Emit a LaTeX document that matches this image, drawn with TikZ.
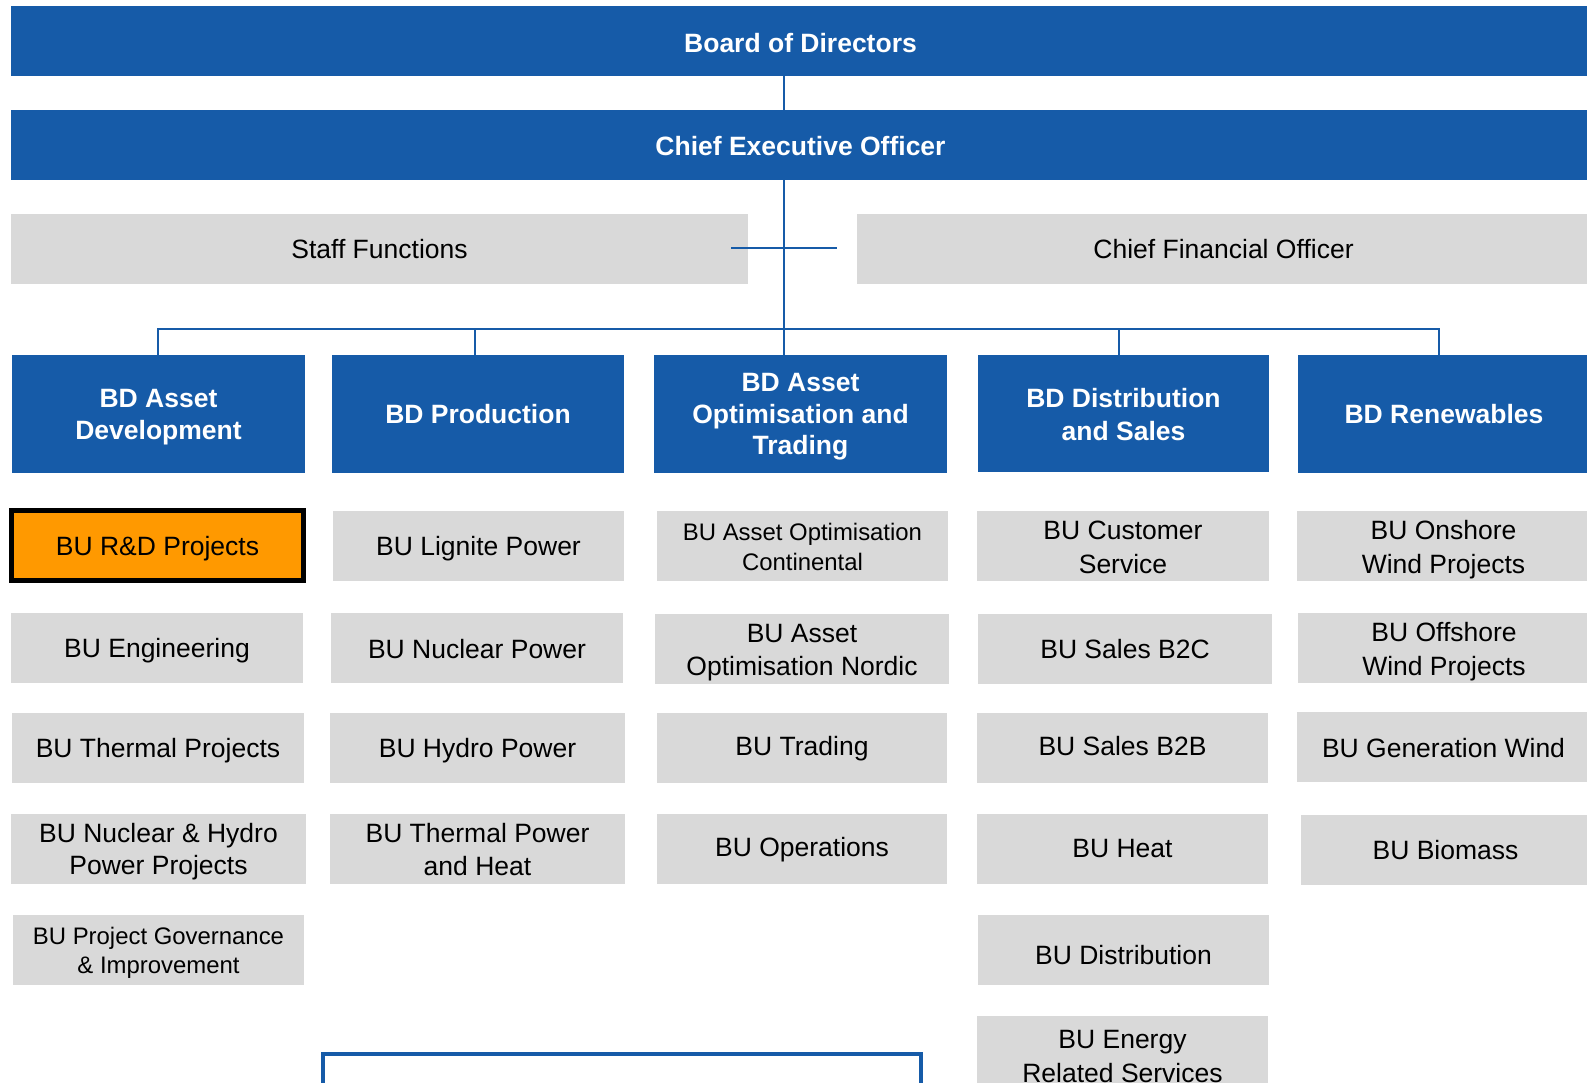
\documentclass[tikz,border=0pt]{standalone}
\usepackage{fontspec}
\setmainfont{Liberation Sans}
\definecolor{hdblue}{HTML}{165BA8}
\definecolor{bugray}{HTML}{D9D9D9}
\definecolor{rdorange}{HTML}{FF9900}
\newcommand\placebox[7]{\node[#2, anchor=north west, minimum width={(#5)-(#3)}, minimum height={(#6)-(#4)}] (#1) at (#3,#4) {#7};}
% set a line without its depth, optionally lowered
\newcommand\nd[2][0pt]{\raisebox{-#1}[\height][0pt]{#2}}
\begin{document}
\begin{tikzpicture}[x=1pt,y=-1pt,
  base/.style={rectangle, inner sep=0pt, outer sep=0pt, align=center, draw=none},
  hdbox/.style={base, fill=hdblue, text=white, font=\fontsize{26.5}{31.8}\selectfont\bfseries},
  graybox/.style={base, fill=bugray, text=black, font=\fontsize{26.5}{31.8}\selectfont},
  smallgray/.style={base, fill=bugray, text=black, font=\fontsize{23.9}{28.7}\selectfont},
  rdbox/.style={base, fill=rdorange, draw=black, line width=5pt, text=black, font=\fontsize{26.5}{31.8}\selectfont},
  outlinebox/.style={base, draw=hdblue, line width=4pt, fill=none},
  conn/.style={draw=hdblue, line width=2.6pt}]
\useasboundingbox (0,0) rectangle (1587,1083);
\clip (0,0) rectangle (1587,1083);
\fill[white] (0,0) rectangle (1587,1083);
% top level
\placebox{board}{hdbox}{11}{6}{1590}{76}{\nd[2pt]{Board of Directors}}
\placebox{ceo}{hdbox}{11}{110}{1590}{180}{\nd[1pt]{Chief Executive Officer}}
\placebox{staff}{graybox}{11}{214}{748}{284}{\nd{Staff Functions}}
\placebox{cfo}{graybox}{857}{214}{1590}{284}{\nd{Chief Financial Officer}}
% business divisions
\placebox{bd1}{hdbox}{12}{355}{305}{473}{BD Asset\\\nd{Development}}
\placebox{bd2}{hdbox}{332}{355}{624}{473}{\nd{BD Production}}
\placebox{bd3}{hdbox}{654}{355}{947}{473}{BD Asset\\Optimisation and\\\nd{Trading}}
\placebox{bd4}{hdbox}{978}{355}{1269}{472}{BD Distribution\\\nd[1pt]{and Sales}}
\placebox{bd5}{hdbox}{1298}{355}{1590}{473}{\nd{BD Renewables}}
% column 1
\placebox{rd}{rdbox}{11.5}{510.5}{303.5}{580.5}{\nd{BU R\&D Projects}}
\placebox{eng}{graybox}{11}{613}{303}{683}{\nd{BU Engineering}}
\placebox{thermp}{graybox}{12}{713}{304}{783}{\nd{BU Thermal Projects}}
\placebox{nuchyd}{graybox}{11}{814}{306}{884}{BU Nuclear \& Hydro\\\nd{Power Projects}}
\placebox{gov}{smallgray}{13}{915}{304}{985}{BU Project Governance\\\nd{\& Improvement}}
% column 2
\placebox{lignite}{graybox}{333}{511}{624}{581}{\nd{BU Lignite Power}}
\placebox{nucp}{graybox}{331}{613}{623}{683}{\nd[1pt]{BU Nuclear Power}}
\placebox{hydro}{graybox}{330}{713}{625}{783}{\nd{BU Hydro Power}}
\placebox{thermph}{graybox}{330}{814}{625}{884}{BU Thermal Power\\\nd[1pt]{and Heat}}
% column 3
\placebox{cont}{smallgray}{657}{511}{948}{581}{BU Asset Optimisation\\\nd[1.5pt]{Continental}}
\placebox{nordic}{graybox}{655}{614}{949}{684}{BU Asset\\\nd[1.5pt]{Optimisation Nordic}}
\placebox{trading}{graybox}{657}{713}{947}{783}{\nd[-2pt]{BU Trading}}
\placebox{ops}{graybox}{657}{814}{947}{884}{\nd[-2pt]{BU Operations}}
% column 4
\placebox{cust}{graybox}{977}{511}{1269}{581}{BU Customer\\\nd[2pt]{Service}}
\placebox{b2c}{graybox}{978}{614}{1272}{684}{\nd{BU Sales B2C}}
\placebox{b2b}{graybox}{977}{713}{1268}{783}{\nd[-2pt]{BU Sales B2B}}
\placebox{heat}{graybox}{977}{814}{1268}{884}{\nd[-1pt]{BU Heat}}
\placebox{dist}{graybox}{978}{915}{1269}{985}{\nd[5pt]{BU Distribution}}
\placebox{energy}{graybox}{977}{1016}{1268}{1094}{BU Energy\\\nd[2.5pt]{Related Services}}
% column 5
\placebox{onshore}{graybox}{1297}{511}{1590}{581}{BU Onshore\\\nd[1.5pt]{Wind Projects}}
\placebox{offshore}{graybox}{1298}{613}{1590}{683}{BU Offshore\\\nd[1.5pt]{Wind Projects}}
\placebox{genwind}{graybox}{1297}{712}{1590}{782}{\nd[1pt]{BU Generation Wind}}
\placebox{biomass}{graybox}{1301}{815}{1590}{885}{\nd{BU Biomass}}
% outline box at bottom
\placebox{legend}{outlinebox}{323}{1054}{921}{1110}{}
% connectors
\coordinate (spine) at (784,0);
\coordinate (bus) at (0,329);
\coordinate (d1) at (158,0);
\coordinate (d2) at (475,0);
\coordinate (d4) at (1119,0);
\coordinate (d5) at (1439,0);
\coordinate (staffj) at (731,248);
\coordinate (cfoj) at (837,248);
\draw[conn] (board.south -| spine) -- (ceo.north -| spine);
\draw[conn] (ceo.south -| spine) -- (bd3.north -| spine);
\draw[conn] (staffj) -- (cfoj);
\draw[conn] (bd1.north -| d1) -- (d1 |- bus) -- (d5 |- bus) -- (bd5.north -| d5);
\draw[conn] (d2 |- bus) -- (bd2.north -| d2);
\draw[conn] (d4 |- bus) -- (bd4.north -| d4);
\end{tikzpicture}
\end{document}
